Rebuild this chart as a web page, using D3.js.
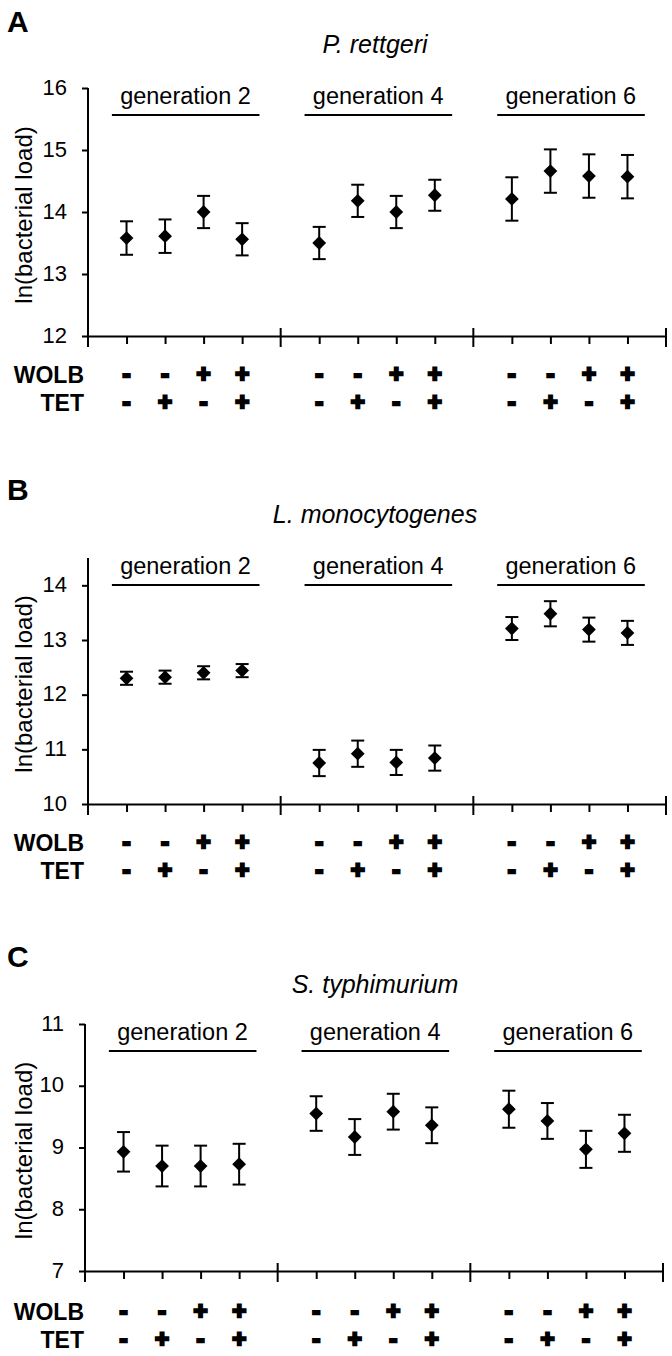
<!DOCTYPE html>
<html lang="en">
    <head>
        <meta charset="utf-8">
        <title>Bacterial load</title>
        <script type="text/javascript" src="https://cdnjs.cloudflare.com/ajax/libs/d3/7.8.5/d3.min.js"></script>
        <style type="text/css">
            body { margin: 0; background: #fff; }
            text { font-family: "Liberation Sans", Arial, sans-serif; fill: #000; }
        </style>
    </head>
    <body>
        <script type="text/javascript">
            // data
            var generations = ["generation 2", "generation 4", "generation 6"];
            var wolb = ["-", "-", "+", "+"];
            var tet = ["-", "+", "-", "+"];

            var rettgeriMean = [13.58, 13.61, 14.00, 13.56, 13.50, 14.18, 14.00, 14.27, 14.21, 14.66, 14.58, 14.57];
            var rettgeriErr  = [0.27, 0.27, 0.26, 0.26, 0.26, 0.26, 0.26, 0.25, 0.35, 0.35, 0.35, 0.35];
            var rettgeriTicks = [12, 13, 14, 15, 16];

            var listeriaMean = [12.30, 12.32, 12.40, 12.44, 10.75, 10.92, 10.76, 10.84, 13.21, 13.48, 13.19, 13.13];
            var listeriaErr  = [0.12, 0.12, 0.12, 0.12, 0.24, 0.24, 0.23, 0.23, 0.21, 0.23, 0.22, 0.22];
            var listeriaTicks = [10, 11, 12, 13, 14];

            var salmonellaMean = [8.93, 8.70, 8.70, 8.73, 9.55, 9.17, 9.58, 9.36, 9.62, 9.43, 8.97, 9.23];
            var salmonellaErr  = [0.32, 0.33, 0.33, 0.33, 0.28, 0.29, 0.29, 0.29, 0.30, 0.29, 0.30, 0.30];
            var salmonellaTicks = [7, 8, 9, 10, 11];

            var w = 672;
            var h = 1356;

            var panels = [
                {letter: "A", title: "P. rettgeri", mean: rettgeriMean, err: rettgeriErr, ticks: rettgeriTicks,
                 domain: [12, 16], x0: 88, x1: 666, yTop: 88, yBot: 336, letterY: 32, titleY: 53, rows: [39, 67]},
                {letter: "B", title: "L. monocytogenes", mean: listeriaMean, err: listeriaErr, ticks: listeriaTicks,
                 domain: [10, 14.5], x0: 88, x1: 666, yTop: 558, yBot: 804, letterY: 500, titleY: 523, rows: [39, 67]},
                {letter: "C", title: "S. typhimurium", mean: salmonellaMean, err: salmonellaErr, ticks: salmonellaTicks,
                 domain: [7, 11], x0: 85, x1: 663, yTop: 1024, yBot: 1271, letterY: 967, titleY: 993, rows: [41, 69]}
            ];

            var svg = d3.select("body")
                        .append("svg")
                        .attr("width", w)
                        .attr("height", h);

            panels.forEach(function(p) {
                var g = svg.append("g");

                // 15 slots: 3 groups of 5, the 5th one is the divider
                var x = d3.scaleLinear().domain([0, 15]).range([p.x0, p.x1]);
                var y = d3.scaleLinear().domain(p.domain).range([p.yBot, p.yTop]);

                var points = p.mean.map(function(m, i) {
                    return {m: m, e: p.err[i], slot: Math.floor(i / 4) * 5 + (i % 4) + 1, t: i % 4};
                });

                g.append("text")
                 .attr("x", 7)
                 .attr("y", p.letterY)
                 .attr("font-size", "30px")
                 .attr("font-weight", "bold")
                 .text(p.letter);

                g.append("text")
                 .attr("x", 375)
                 .attr("y", p.titleY)
                 .attr("text-anchor", "middle")
                 .attr("font-size", "25px")
                 .attr("font-style", "italic")
                 .text(p.title);

                // y axis
                var yAxis = d3.axisLeft(y)
                              .tickValues(p.ticks)
                              .tickFormat(d3.format("d"))
                              .tickSize(6)
                              .tickSizeOuter(0)
                              .tickPadding(15);
                var ya = g.append("g")
                          .attr("transform", "translate(" + p.x0 + ",0)")
                          .call(yAxis);
                ya.select(".domain").attr("stroke", "#000").attr("stroke-width", 2)
                  .attr("d", "M0," + p.yTop + "V" + (p.yBot + 11));
                ya.selectAll(".tick line").attr("stroke", "#000").attr("stroke-width", 2);
                ya.selectAll(".tick text")
                  .attr("font-size", "22px")
                  .attr("dy", "0.28em")
                  .attr("font-family", "Liberation Sans, Arial, sans-serif")
                  .attr("fill", "#000");

                g.append("text")
                 .attr("transform", "translate(32," + ((p.yTop + p.yBot) / 2 + 3) + ") rotate(-90)")
                 .attr("text-anchor", "middle")
                 .attr("font-size", "24px")
                 .text("ln(bacterial load)");

                // x axis with minor ticks under each treatment
                var minor = points.map(function(d) { return d.slot; });
                var xAxis = d3.axisBottom(x)
                              .tickValues(minor)
                              .tickFormat("")
                              .tickSize(8)
                              .tickSizeOuter(0);
                var xa = g.append("g")
                          .attr("transform", "translate(0," + p.yBot + ")")
                          .call(xAxis);
                xa.select(".domain").attr("stroke", "#000").attr("stroke-width", 2);
                xa.selectAll(".tick line").attr("stroke", "#000").attr("stroke-width", 2);

                g.selectAll("line.major")
                 .data([5, 10, 15])
                 .enter()
                 .append("line")
                 .attr("class", "major")
                 .attr("x1", function(d) { return x(d); })
                 .attr("x2", function(d) { return x(d); })
                 .attr("y1", p.yBot - 8)
                 .attr("y2", p.yBot + 11)
                 .attr("stroke", "#000")
                 .attr("stroke-width", 2);

                // generation headers
                var lineY = p.yTop + 27;
                g.selectAll("line.gen")
                 .data(generations)
                 .enter()
                 .append("line")
                 .attr("class", "gen")
                 .attr("x1", function(d, i) { return x(i * 5 + 0.62); })
                 .attr("x2", function(d, i) { return x(i * 5 + 4.45); })
                 .attr("y1", lineY)
                 .attr("y2", lineY)
                 .attr("stroke", "#000")
                 .attr("stroke-width", 2);

                g.selectAll("text.gen")
                 .data(generations)
                 .enter()
                 .append("text")
                 .attr("class", "gen")
                 .attr("x", function(d, i) { return x(i * 5 + 2.53); })
                 .attr("y", lineY - 11)
                 .attr("text-anchor", "middle")
                 .attr("font-size", "23.5px")
                 .text(function(d) { return d; });

                // error bars
                var bars = g.selectAll("g.bar")
                            .data(points)
                            .enter()
                            .append("g")
                            .attr("class", "bar")
                            .attr("stroke", "#000")
                            .attr("stroke-width", 2);
                bars.append("line")
                    .attr("x1", function(d) { return x(d.slot); })
                    .attr("x2", function(d) { return x(d.slot); })
                    .attr("y1", function(d) { return y(d.m - d.e); })
                    .attr("y2", function(d) { return y(d.m + d.e); });
                bars.append("line")
                    .attr("x1", function(d) { return x(d.slot) - 6.5; })
                    .attr("x2", function(d) { return x(d.slot) + 6.5; })
                    .attr("y1", function(d) { return y(d.m + d.e); })
                    .attr("y2", function(d) { return y(d.m + d.e); });
                bars.append("line")
                    .attr("x1", function(d) { return x(d.slot) - 6.5; })
                    .attr("x2", function(d) { return x(d.slot) + 6.5; })
                    .attr("y1", function(d) { return y(d.m - d.e); })
                    .attr("y2", function(d) { return y(d.m - d.e); });

                // diamonds
                g.selectAll("path.pt")
                 .data(points)
                 .enter()
                 .append("path")
                 .attr("class", "pt")
                 .attr("d", d3.symbol(d3.symbolSquare, 95))
                 .attr("transform", function(d) {
                     return "translate(" + x(d.slot) + "," + y(d.m) + ") rotate(45)";
                 })
                 .attr("fill", "#000");

                // treatment rows
                var rowY1 = p.yBot + p.rows[0];
                var rowY2 = p.yBot + p.rows[1];
                g.append("text")
                 .attr("x", 84).attr("y", rowY1 + 8)
                 .attr("text-anchor", "end")
                 .attr("font-size", "23px").attr("font-weight", "bold")
                 .text("WOLB");
                g.append("text")
                 .attr("x", 84).attr("y", rowY2 + 8)
                 .attr("text-anchor", "end")
                 .attr("font-size", "23px").attr("font-weight", "bold")
                 .text("TET");

                g.selectAll("text.wolb")
                 .data(points)
                 .enter()
                 .append("text")
                 .attr("class", "wolb")
                 .attr("x", function(d) { return x(d.slot); })
                 .attr("y", rowY1 + 7)
                 .attr("text-anchor", "middle")
                 .attr("font-size", "24px").attr("font-weight", "bold")
                 .attr("stroke", "#000").attr("stroke-width", 2.4)
                 .text(function(d) { return wolb[d.t]; });

                g.selectAll("text.tet")
                 .data(points)
                 .enter()
                 .append("text")
                 .attr("class", "tet")
                 .attr("x", function(d) { return x(d.slot); })
                 .attr("y", rowY2 + 7)
                 .attr("text-anchor", "middle")
                 .attr("font-size", "24px").attr("font-weight", "bold")
                 .attr("stroke", "#000").attr("stroke-width", 2.4)
                 .text(function(d) { return tet[d.t]; });
            });
        </script>
    </body>
</html>
